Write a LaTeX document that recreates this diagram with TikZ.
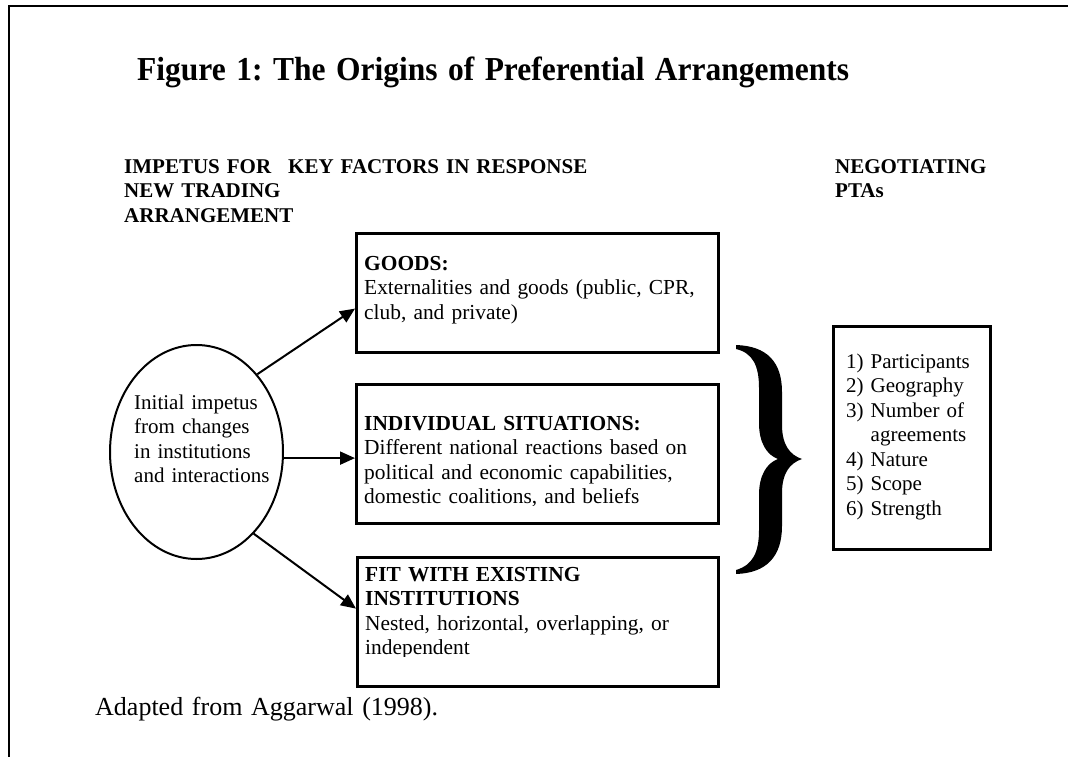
\documentclass[tikz,border=0pt]{standalone}
\usepackage{graphicx}
\usepackage{fontspec}
\setmainfont{Liberation Serif}
\frenchspacing
\usetikzlibrary{arrows.meta,calc,shapes.geometric}
\begin{document}
\begin{tikzpicture}[x=1pt,y=-1pt,
  txt/.style={anchor=base west, inner sep=0pt, align=left, text width=#1,
              font=\fontsize{21.4}{24.5}\selectfont},
  txt/.default=350pt,
  hdr/.style={txt, font=\bfseries\fontsize{21}{24.5}\selectfont},
  box/.style={draw, line width=2.6pt, anchor=north west, inner sep=0pt},
  oval/.style={draw, ellipse, line width=2pt, inner sep=0pt},
  arr/.style={line width=2pt, -{Triangle[length=15pt,width=13pt]}},
]
\useasboundingbox (0,0) rectangle (1068,757);

% page frame (open to the right and bottom)
\draw[line width=2pt] (1068,6) -- (9,6) -- (9,757);

% title and column headings
\node[txt=800pt, font=\bfseries\fontsize{33.5}{38}\selectfont] (title) at (137,81)
  {\scalebox{0.94}[1]{Figure 1: The Origins of Preferential Arrangements}};
\node[hdr] (h1) at (124,173) {IMPETUS FOR\\NEW TRADING\\ARRANGEMENT};
\node[hdr] (h2) at (288,173) {KEY FACTORS IN RESPONSE};
\node[hdr] (h3) at (835,173) {NEGOTIATING\\PTAs};

% impetus oval
\node[oval, minimum width=173pt, minimum height=214pt] (imp) at (196.5,452) {};
\node[txt, font=\fontsize{21}{24.5}\selectfont] (impT) at (134,409)
  {Initial impetus\\from changes\\in institutions\\and interactions};

% key factor boxes
\node[box, minimum width=362pt, minimum height=119pt] (goods) at (355,232) {};
\node[box, minimum width=362pt, minimum height=139pt] (indiv) at (355,383) {};
\node[box, minimum width=361pt, minimum height=129pt] (fit) at (356,556) {};

\node[txt] (goodsT) at (364,270)
  {\textbf{GOODS:}\\Externalities and goods (public, CPR,\\club, and private)};
\begin{scope}
  \clip (356,384) rectangle (716,505.5);
  \node[txt] (indivT) at (364,430)
    {\textbf{INDIVIDUAL SITUATIONS:}\\Different national reactions based on\\political and economic capabilities,\\domestic coalitions, and beliefs};
\end{scope}
\begin{scope}
  \clip (357,557) rectangle (716,656.5);
  \node[txt] (fitT) at (365,581)
    {\textbf{FIT WITH EXISTING}\\\textbf{INSTITUTIONS}\\Nested, horizontal, overlapping, or\\independent};
\end{scope}

% connectors from the oval to the boxes
\draw[arr] (imp.52) -- ($(goods.north west)!0.63!(goods.south west)$);
\draw[arr] (imp.-4) -- (imp.-4 -| indiv.west);
\draw[arr] (imp.-55) -- ($(fit.north west)!0.40!(fit.south west)$);

% large closing brace
\fill (736,345) .. controls (767,346) and (782,362) .. (782,392)
  -- (782,425) .. controls (782,445) and (790,455) .. (802,459)
  .. controls (790,463) and (782,473) .. (782,493)
  -- (782,526) .. controls (782,556) and (767,573) .. (736,574)
  -- (736,570) .. controls (753,565) and (759,552) .. (759,530)
  -- (759,495) .. controls (759,475) and (767,463) .. (778,459)
  .. controls (767,455) and (759,443) .. (759,423)
  -- (759,388) .. controls (759,366) and (753,353) .. (736,349) -- cycle;

% outcome box
\node[box, minimum width=157pt, minimum height=223pt] (ptas) at (832,325) {};
\node[txt, font=\fontsize{21}{24.5}\selectfont] (list) at (846,368)
  {1) Participants\\2) Geography\\3) Number of\\\phantom{3) }agreements\\4) Nature\\5) Scope\\6) Strength};

% source note
\node[txt=500pt, font=\fontsize{26}{30}\selectfont] (src) at (95,715) {Adapted from Aggarwal (1998).};
\end{tikzpicture}
\end{document}
